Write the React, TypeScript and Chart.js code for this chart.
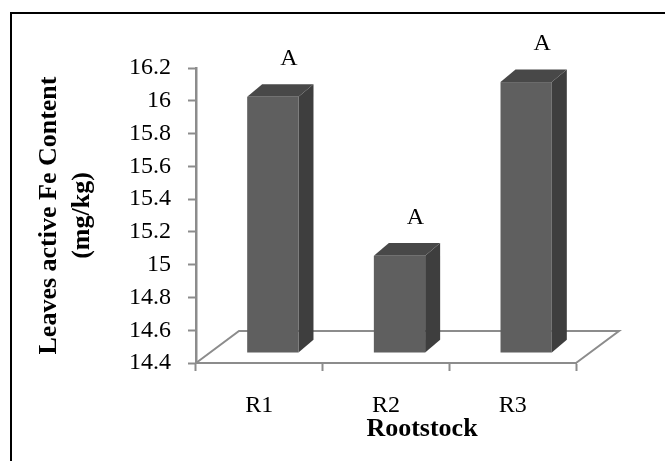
import React, { useEffect, useRef } from 'react';
import { Chart, registerables } from 'chart.js';

Chart.register(...registerables);

// ---- data ----
const categories = ['R1', 'R2', 'R3'];
const feValues = [15.96, 14.99, 16.05];
const groupLetters = ['A', 'A', 'A'];
const yMin = 14.4;
const yMax = 16.2;
const yStep = 0.2;
const yAxisTitle = ['Leaves active Fe Content', '(mg/kg)'];
const xAxisTitle = 'Rootstock';

// ---- styles ----
const SERIF = '"Liberation Serif", "Times New Roman", Times, serif';
const AXIS_GRAY = '#8c8c8c';
const FRONT = '#5f5f5f';
const SIDE = '#3e3e3e';
const TOP = '#484848';
const FLOOR_DX = 43;
const FLOOR_DY = -32;
const BAR_OX = 13.5;
const BAR_OY = -10.5;
const BAR_DX = 15;
const BAR_DY = -12.7;

const threeD = {
  id: 'threeD',
  beforeDatasetsDraw(chart: any) {
    const { ctx, chartArea } = chart;
    const { left, right, bottom } = chartArea;
    ctx.save();
    ctx.strokeStyle = AXIS_GRAY;
    ctx.lineWidth = 2;
    ctx.beginPath();
    ctx.moveTo(left, bottom);
    ctx.lineTo(left + FLOOR_DX, bottom + FLOOR_DY);
    ctx.lineTo(right + FLOOR_DX, bottom + FLOOR_DY);
    ctx.lineTo(right, bottom);
    ctx.stroke();
    ctx.restore();
  },
  afterDatasetsDraw(chart: any) {
    const { ctx, chartArea } = chart;
    const meta = chart.getDatasetMeta(0);
    const basePx = chart.scales.y.getPixelForValue(yMin);
    ctx.save();
    meta.data.forEach((el: any, i: number) => {
      const { x, y, width } = el.getProps(['x', 'y', 'width'], true);
      const l = x - width / 2 + BAR_OX;
      const r = x + width / 2 + BAR_OX;
      const t = y + BAR_OY;
      const b = basePx + BAR_OY;
      ctx.fillStyle = SIDE;
      ctx.beginPath();
      ctx.moveTo(r, t);
      ctx.lineTo(r + BAR_DX, t + BAR_DY);
      ctx.lineTo(r + BAR_DX, b + BAR_DY);
      ctx.lineTo(r, b);
      ctx.closePath();
      ctx.fill();
      ctx.fillStyle = TOP;
      ctx.beginPath();
      ctx.moveTo(l, t);
      ctx.lineTo(l + BAR_DX, t + BAR_DY);
      ctx.lineTo(r + BAR_DX, t + BAR_DY);
      ctx.lineTo(r, t);
      ctx.closePath();
      ctx.fill();
      ctx.fillStyle = FRONT;
      ctx.fillRect(l, t, r - l, b - t);

      ctx.fillStyle = '#000';
      ctx.font = `24px ${SERIF}`;
      ctx.textAlign = 'center';
      ctx.textBaseline = 'middle';
      ctx.fillText(groupLetters[i], x + BAR_OX + 16, t - 38);
    });
    ctx.fillStyle = '#000';
    ctx.font = `bold 26px ${SERIF}`;
    ctx.textAlign = 'center';
    ctx.textBaseline = 'middle';
    ctx.fillText(xAxisTitle, (chartArea.left + chartArea.right) / 2 + 36, chartArea.bottom + 66);
    ctx.restore();
  },
};

export default function App() {
  const ref = useRef<HTMLCanvasElement>(null);
  useEffect(() => {
    if (!ref.current) return;
    const chart = new Chart(ref.current, {
      type: 'bar',
      data: {
        labels: categories,
        datasets: [
          {
            data: feValues,
            backgroundColor: 'rgba(0,0,0,0)',
            borderWidth: 0,
            categoryPercentage: 1,
            barPercentage: 0.405,
          },
        ],
      },
      options: {
        animation: false,
        responsive: false,
        events: [],
        layout: { padding: { left: 0, top: 68, right: 89, bottom: 0 } },
        plugins: { legend: { display: false }, tooltip: { enabled: false } },
        scales: {
          x: {
            offset: true,
            grid: {
              offset: true,
              drawOnChartArea: false,
              drawTicks: true,
              tickLength: 8,
              tickColor: AXIS_GRAY,
              tickWidth: 2,
            },
            border: { display: true, color: AXIS_GRAY, width: 2 },
            ticks: { color: '#000', font: { family: SERIF, size: 24 }, padding: 20 },
            afterFit: (scale: any) => {
              scale.height = 98;
            },
          },
          y: {
            min: yMin,
            max: yMax,
            grid: {
              drawOnChartArea: false,
              drawTicks: true,
              tickLength: 8,
              tickColor: AXIS_GRAY,
              tickWidth: 2,
            },
            border: { display: true, color: AXIS_GRAY, width: 2.5 },
            ticks: {
              stepSize: yStep,
              color: '#000',
              font: { family: SERIF, size: 24 },
              padding: 17,
              callback: (v: any) => String(Number(Number(v).toFixed(1))),
            },
            title: {
              display: true,
              text: yAxisTitle,
              color: '#000',
              font: { family: SERIF, size: 26, weight: 'bold', lineHeight: 1.3 },
              padding: { top: 32, bottom: 0 },
            },
            afterFit: (scale: any) => {
              scale.width = 196;
            },
          },
        },
      },
      plugins: [threeD],
    });
    return () => chart.destroy();
  }, []);

  return (
    <div
      style={{
        position: 'fixed',
        left: 0,
        top: 0,
        width: 665,
        height: 461,
        background: '#fff',
        overflow: 'hidden',
      }}
    >
      <div
        style={{
          position: 'absolute',
          left: 10,
          top: 12,
          width: 700,
          height: 500,
          borderTop: '2px solid #000',
          borderLeft: '2px solid #000',
          boxSizing: 'border-box',
        }}
      />
      <canvas ref={ref} width={665} height={461} style={{ position: 'absolute', left: 0, top: 0 }} />
    </div>
  );
}
